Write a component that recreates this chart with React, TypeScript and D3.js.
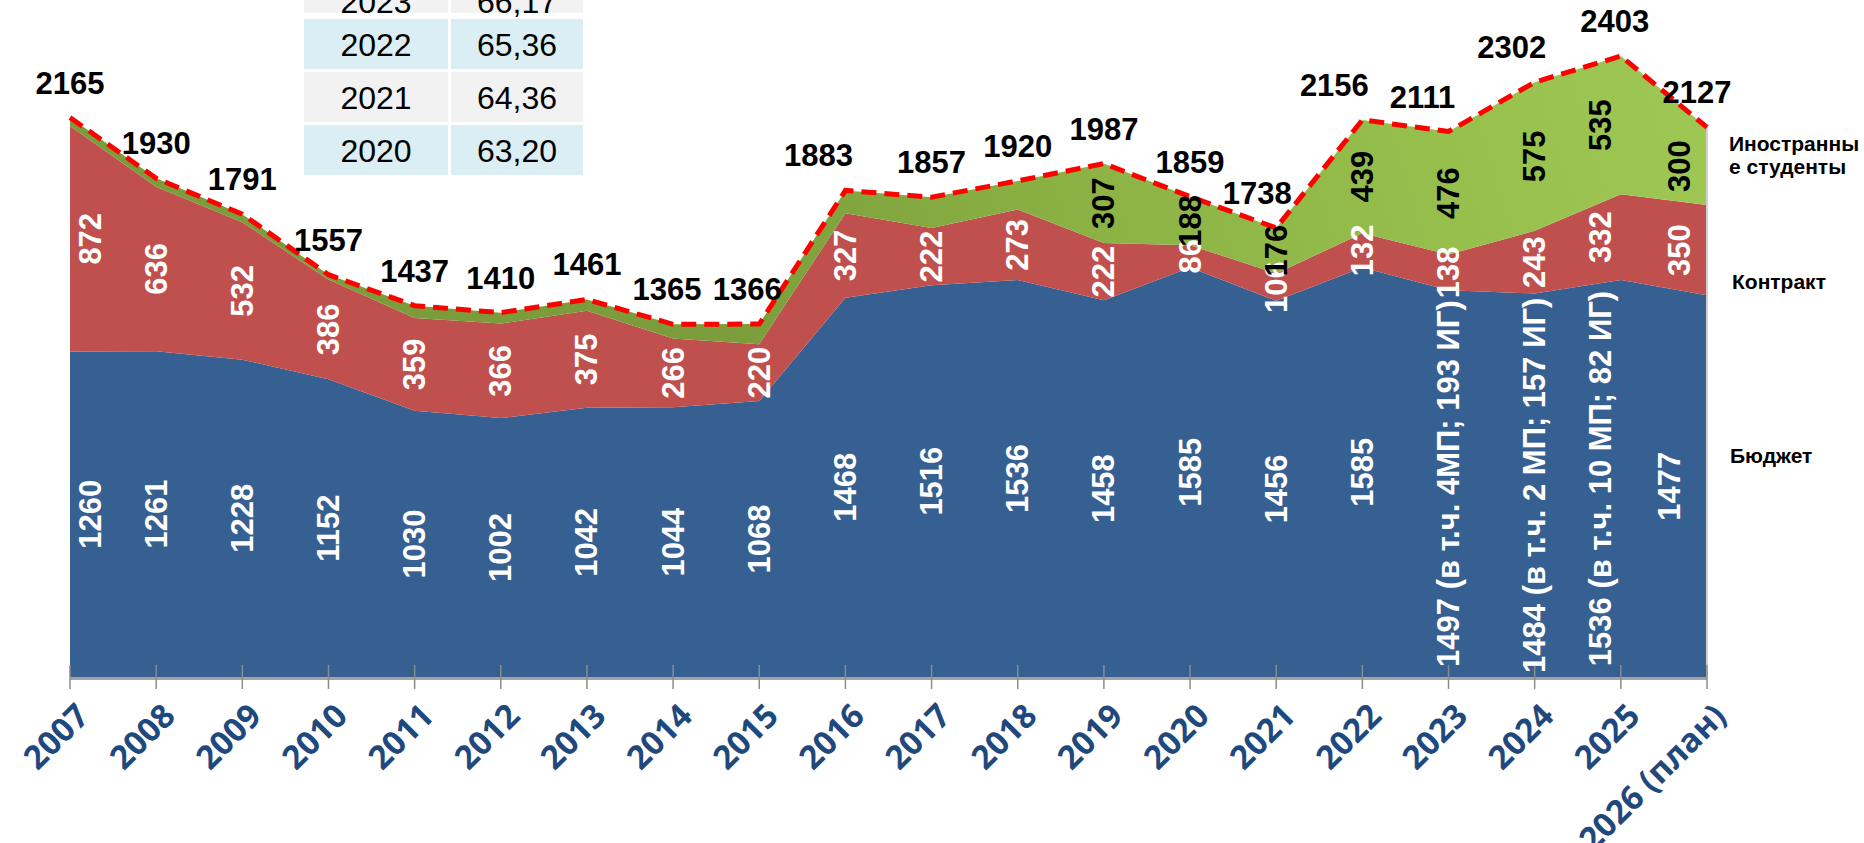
import React from 'react';
import * as d3 from 'd3';

const years = ['2007','2008','2009','2010','2011','2012','2013','2014','2015','2016','2017','2018','2019','2020','2021','2022','2023','2024','2025','2026 (план)'];
const budget = [1260,1261,1228,1152,1030,1002,1042,1044,1068,1468,1516,1536,1458,1585,1456,1585,1497,1484,1536,1477];
const budgetLabels = ['1260','1261','1228','1152','1030','1002','1042','1044','1068','1468','1516','1536','1458','1585','1456','1585','1497 (в т.ч. 4МП; 193 ИГ)','1484 (в т.ч. 2 МП; 157 ИГ)','1536 (в т.ч. 10 МП; 82 ИГ)','1477'];
const contract = [872,636,532,386,359,366,375,266,220,327,222,273,222,86,106,132,138,243,332,350];
const foreign = [33,33,31,19,48,42,44,55,78,88,119,111,307,188,176,439,476,575,535,300];
const totals = [2165,1930,1791,1557,1437,1410,1461,1365,1366,1883,1857,1920,1987,1859,1738,2156,2111,2302,2403,2127];
const foreignLabelFrom = 12;
const seriesKeys = ['budget','contract','foreign'];
const legendForeign = ['Иностранны','е студенты'];
const legendContract = 'Контракт';
const legendBudget = 'Бюджет';
const tableYears = ['2023','2022','2021','2020'];
const tableValues = ['66,17','65,36','64,36','63,20'];

// layout tweaks (pixels) for labels that sit off their point
const labelShiftX = [20,0,0,0,0,0,0,0,0,0,0,0,0,0,0,0,0,0,-20,-28];
const totalShiftX = [0,0,0,0,0,0,0,-6,-12,-27,0,0,0,0,-19,-28,-26,-23,-6,-10];

const W = 1864, H = 843;
const COLORS = { budget: '#376092', contract: '#C0504D' };
const LABEL_FONT = '"Liberation Sans", Arial, sans-serif';

export default function App() {
  const x = d3.scalePoint<string>().domain(years).range([70, 1707]);
  const y = d3.scaleLinear().domain([0, 2620]).range([677, 0]);
  const rows = years.map((yr, i) => ({ yr, budget: budget[i], contract: contract[i], foreign: foreign[i], i }));
  const stack = d3.stack<any>().keys(seriesKeys)(rows);
  const area = d3.area<any>()
    .x((d) => x(d.data.yr) as number)
    .y0((d) => y(d[0]))
    .y1((d) => y(d[1]));
  const line = d3.line<number>()
    .x((_, i) => x(years[i]) as number)
    .y((d) => y(d));
  const axisY = y(0);
  const fills = [COLORS.budget, COLORS.contract, 'url(#greenGrad)'];
  const rotLabel = (cx: number, cy: number, text: string, fill: string, key: string) => (
    <text key={key} transform={`translate(${cx},${cy}) rotate(-90)`} textAnchor="middle" dominantBaseline="central"
      fontFamily={LABEL_FONT} fontWeight={700} fontSize={31} fill={fill}>{text}</text>
  );

  const tableX0 = 304, colSplit = 448, colGap = 3, tableX1 = 583;
  const rowTops = [-37, 19, 72, 125];
  const rowH = 50;

  return (
    <svg width={W} height={H} style={{ position: 'absolute', left: 0, top: 0, background: '#fff' }}>
      <defs>
        <linearGradient id="greenGrad" gradientUnits="userSpaceOnUse" x1={1650} y1={40} x2={700} y2={330}>
          <stop offset="0" stopColor="#9DC752" />
          <stop offset="0.55" stopColor="#8DB445" />
          <stop offset="1" stopColor="#7A9C3A" />
        </linearGradient>
      </defs>

      {/* table */}
      {tableYears.map((t, r) => (
        <g key={'row' + r}>
          <rect x={tableX0} y={rowTops[r]} width={colSplit - tableX0} height={rowH} fill={r % 2 === 0 ? '#F2F2F2' : '#DAEEF3'} />
          <rect x={colSplit + colGap} y={rowTops[r]} width={tableX1 - colSplit - colGap} height={rowH} fill={r % 2 === 0 ? '#F2F2F2' : '#DAEEF3'} />
          <text x={(tableX0 + colSplit) / 2} y={r === 0 ? 13 : rowTops[r] + rowH / 2 + 12} textAnchor="middle" fontFamily={LABEL_FONT} fontSize={32} fill="#000">{t}</text>
          <text x={(colSplit + colGap + tableX1) / 2} y={r === 0 ? 13 : rowTops[r] + rowH / 2 + 12} textAnchor="middle" fontFamily={LABEL_FONT} fontSize={32} fill="#000">{tableValues[r]}</text>
        </g>
      ))}

      {/* areas */}
      {stack.map((s, k) => (
        <path key={seriesKeys[k]} d={area(s) as string} fill={fills[k]} />
      ))}
      <line x1={x(years[years.length - 1])} x2={x(years[years.length - 1])} y1={y(totals[totals.length - 1])} y2={axisY} stroke="#D0D0D0" strokeWidth={2} />

      {/* axis */}
      <line x1={70} x2={1707} y1={axisY + 1.5} y2={axisY + 1.5} stroke="#A3A3A3" strokeWidth={3} />
      {years.map((yr) => (
        <line key={'t' + yr} x1={x(yr)} x2={x(yr)} y1={axisY - 12} y2={axisY + 12} stroke="#8C8C8C" strokeWidth={1.5} />
      ))}
      {years.map((yr) => (
        <text key={'yl' + yr} transform={`translate(${(x(yr) as number) + 21},${718}) rotate(-45)`} textAnchor="end"
          fontFamily='"Open Sans", sans-serif' fontWeight={700} fontSize={33} fill="#1F497D">{yr}</text>
      ))}

      {/* white labels */}
      {stack[0].map((d, i) => rotLabel((x(years[i]) as number) + labelShiftX[i] + (i === years.length - 1 ? -10 : 0), (y(d[0]) + y(d[1])) / 2, budgetLabels[i], '#fff', 'b' + i))}
      {stack[1].map((d, i) => rotLabel((x(years[i]) as number) + labelShiftX[i], (y(d[0]) + y(d[1])) / 2, String(contract[i]), '#fff', 'c' + i))}

      {/* total dashed line */}
      <path d={line(totals) as string} fill="none" stroke="#FF0000" strokeWidth={5} strokeDasharray="15 8" />

      {/* foreign labels */}
      {stack[2].map((d, i) => i >= foreignLabelFrom ? rotLabel((x(years[i]) as number) + labelShiftX[i], (y(d[0]) + y(d[1])) / 2, String(foreign[i]), '#000', 'f' + i) : null)}

      {/* totals */}
      {totals.map((t, i) => (
        <text key={'tot' + i} x={(x(years[i]) as number) + totalShiftX[i]} y={y(t) - 24} textAnchor="middle"
          fontFamily={LABEL_FONT} fontWeight={700} fontSize={31} fill="#000">{t}</text>
      ))}

      {/* legend */}
      <text fontFamily={LABEL_FONT} fontWeight={700} fontSize={21} fill="#000">
        <tspan x={1729} y={151}>{legendForeign[0]}</tspan>
        <tspan x={1729} y={174}>{legendForeign[1]}</tspan>
      </text>
      <text x={1732} y={289} fontFamily={LABEL_FONT} fontWeight={700} fontSize={21} fill="#000">{legendContract}</text>
      <text x={1730} y={463} fontFamily={LABEL_FONT} fontWeight={700} fontSize={21} fill="#000">{legendBudget}</text>
    </svg>
  );
}
